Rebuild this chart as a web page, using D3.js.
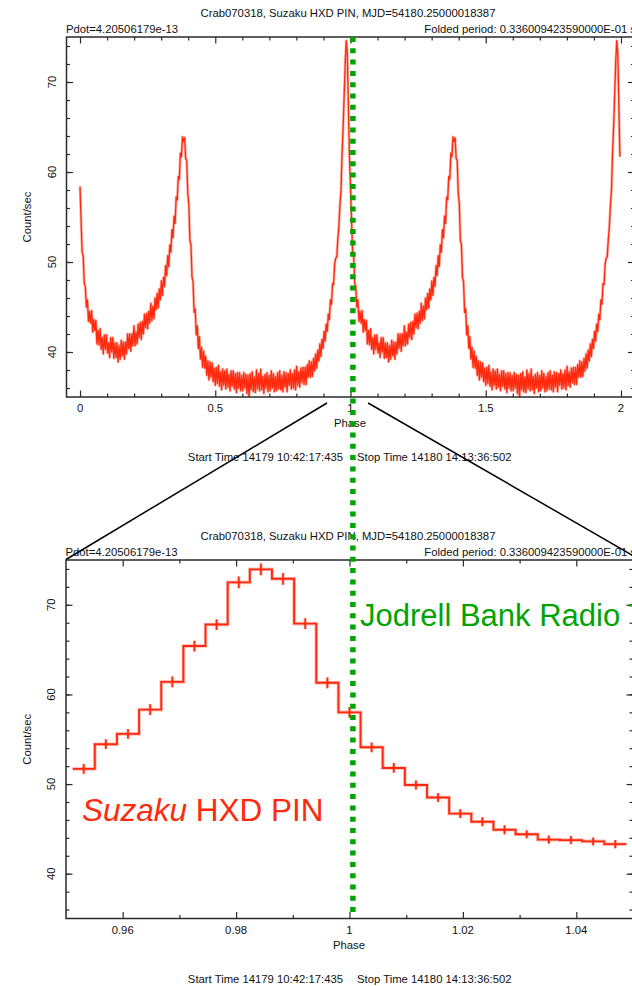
<!DOCTYPE html>
<html><head><meta charset="utf-8">
<script src="https://cdn.jsdelivr.net/npm/d3@7"></script>
<style>
body{margin:0;background:#fff;}
svg{display:block;}
text{font-family:"Liberation Sans",Arial,Helvetica,sans-serif;fill:#111;}
</style>
</head><body>
<svg id="c" width="632" height="986"></svg>
<script>
// ---------------- data ----------------
const titleText  = "Crab070318, Suzaku HXD PIN, MJD=54180.25000018387";
const pdotText   = "Pdot=4.20506179e-13";
const periodText = "Folded period: 0.336009423590000E-01 s";
const startText  = "Start Time 14179 10:42:17:435";
const stopText   = "Stop Time 14180 14:13:36:502";
const xAxisTitle = "Phase";
const yAxisTitle = "Count/sec";
const radioLabel = "Jodrell Bank Radio Timing";
const suzakuItalic = "Suzaku";
const suzakuRest = " HXD PIN";

// folded light curve, one cycle, 256 phase bins (plotted twice: phase 0-2)
const binsPerCycle = 256;
const profile = [
58.4,54.6,51.1,50.7,47.6,47.3,45.0,45.8,43.4,44.5,43.2,44.6,42.2,43.6,42.4,43.5,
40.9,42.4,40.8,42.6,40.3,41.6,39.8,41.9,40.3,41.9,39.9,41.0,39.4,41.6,40.0,41.6,
39.3,41.0,39.4,41.0,38.9,40.7,39.2,41.3,39.6,41.1,39.2,41.1,39.8,42.0,40.4,42.0,
40.1,42.0,40.7,42.9,40.7,42.2,40.9,43.1,41.6,43.3,41.4,43.4,42.0,44.2,42.7,44.3,
42.6,44.5,43.2,45.4,43.5,45.1,43.7,46.0,44.7,46.5,44.9,47.0,45.8,47.9,46.3,48.3,
47.3,49.6,48.5,50.7,49.5,51.9,51.1,53.6,52.7,55.1,54.3,57.2,56.9,59.5,59.2,62.1,
61.7,63.9,63.4,63.8,61.5,61.3,57.6,56.4,52.4,51.9,48.3,47.8,44.4,44.8,41.9,42.9,
40.4,41.7,39.2,40.5,38.3,40.1,38.2,39.5,37.4,39.0,36.9,38.9,37.2,38.8,36.7,38.2,
36.3,38.3,36.5,38.5,36.2,37.8,35.8,38.1,36.3,37.9,35.9,38.1,36.1,37.5,35.7,37.9,
36.2,37.9,35.9,37.6,35.5,37.7,36.0,37.7,35.7,37.4,35.7,37.7,36.0,37.5,35.4,37.4,
34.9,37.6,35.8,37.8,35.6,37.2,35.5,38.0,35.9,37.6,35.7,38.1,35.8,37.3,35.4,37.5,
36.0,37.7,35.6,37.4,35.7,37.9,36.0,37.6,35.6,37.3,35.7,37.7,35.9,37.9,35.8,37.4,
35.6,37.8,36.1,37.7,35.6,37.6,36.3,38.0,35.9,37.6,36.0,38.0,35.8,38.4,36.3,37.8,
36.1,38.2,36.6,38.3,36.4,38.3,36.4,38.6,37.2,39.0,37.2,38.9,37.3,39.3,37.9,39.8,
38.2,40.2,39.0,40.9,39.5,41.4,40.4,42.3,41.2,43.1,42.3,44.2,43.6,45.8,45.3,47.6,
47.5,49.8,50.4,50.6,52.5,53.9,56.3,57.9,62.0,64.9,68.5,72.1,74.6,73.2,67.4,61.7
];

// zoomed panel: 1/256 phase bins around the main pulse
const zoomBinIndex = [244,245,246,247,248,249,250,251,252,253,254,255,256,257,258,259,260,261,262,263,264,265,266,267,268];
const zoomCounts   = [51.7,54.45,55.6,58.3,61.4,65.4,67.8,72.5,73.95,72.9,67.9,61.3,58.0,54.1,51.8,49.9,48.5,46.7,45.8,44.9,44.4,43.8,43.75,43.6,43.3];
const zoomErrors   = [0.55,0.55,0.55,0.6,0.6,0.6,0.6,0.65,0.65,0.65,0.6,0.6,0.6,0.55,0.55,0.5,0.5,0.5,0.5,0.5,0.45,0.45,0.45,0.45,0.45];

const topXMajor = [0,0.5,1,1.5,2];
const topXLabels = ["0","0.5","1","1.5","2"];
const botXMajor = [0.96,0.98,1,1.02,1.04];
const botXLabels = ["0.96","0.98","1","1.02","1.04"];
const yMajor = [40,50,60,70];
const yLabels = ["40","50","60","70"];
const radioPhase = 1.0006;

// ---------------- drawing ----------------
const svg = d3.select("#c");
const RED = "#ff2a0e", GREEN = "#00a400", FRAME = "#2a2a2a";
const FS = 11.3;

function panel(cfg){
  const g = svg.append("g");
  const x = d3.scaleLinear().domain(cfg.xDomain).range([cfg.left, cfg.right]);
  const y = d3.scaleLinear().domain([35,75]).range([cfg.bottom, cfg.top]);
  const clipId = "clip" + cfg.id;
  svg.append("clipPath").attr("id", clipId).append("rect")
     .attr("x", cfg.left).attr("y", cfg.top).attr("width", cfg.right-cfg.left).attr("height", cfg.bottom-cfg.top);

  const tickStyle = sel => { sel.select(".domain").remove(); sel.selectAll("line").attr("stroke", FRAME).attr("stroke-width",1.2); };
  const mk = (axis, tr) => g.append("g").attr("transform", tr).call(axis).call(tickStyle);
  mk(d3.axisBottom(x).tickValues(cfg.xMinor).tickSize(-3.5).tickFormat(""), `translate(0,${cfg.bottom})`);
  mk(d3.axisBottom(x).tickValues(cfg.xMajor).tickSize(-6.5).tickFormat(""), `translate(0,${cfg.bottom})`);
  mk(d3.axisTop(x).tickValues(cfg.xMinor).tickSize(-3.5).tickFormat(""), `translate(0,${cfg.top})`);
  mk(d3.axisTop(x).tickValues(cfg.xMajor).tickSize(-6.5).tickFormat(""), `translate(0,${cfg.top})`);
  const yMinor = d3.range(36, 75, 2);
  mk(d3.axisLeft(y).tickValues(yMinor).tickSize(-3.5).tickFormat(""), `translate(${cfg.left},0)`);
  mk(d3.axisLeft(y).tickValues(yMajor).tickSize(-6.5).tickFormat(""), `translate(${cfg.left},0)`);
  mk(d3.axisRight(y).tickValues(yMinor).tickSize(-3.5).tickFormat(""), `translate(${cfg.right},0)`);
  mk(d3.axisRight(y).tickValues(yMajor).tickSize(-6.5).tickFormat(""), `translate(${cfg.right},0)`);

  g.selectAll(null).data(cfg.xMajor).enter().append("text")
    .attr("x", d=>x(d)).attr("y", cfg.bottom+15).attr("text-anchor","middle")
    .attr("font-size", FS).text((d,i)=>cfg.xLabels[i]);
  g.selectAll(null).data(yMajor).enter().append("text")
    .attr("transform", d=>`translate(${cfg.left-11},${y(d)}) rotate(-90)`)
    .attr("text-anchor","middle").attr("font-size", FS).text((d,i)=>yLabels[i]);
  g.append("text").attr("x", (cfg.left+cfg.right)/2 - 0.5).attr("y", cfg.bottom+30)
    .attr("text-anchor","middle").attr("font-size", FS).text(xAxisTitle);
  g.append("text").attr("transform", `translate(30.5,${(cfg.top+cfg.bottom)/2}) rotate(-90)`)
    .attr("text-anchor","middle").attr("font-size", FS).text(yAxisTitle);
  g.append("text").attr("x", 348).attr("y", cfg.top-20.5).attr("text-anchor","middle").attr("font-size", FS).text(titleText);
  g.append("text").attr("x", cfg.left-0.5).attr("y", cfg.top-4.5).attr("font-size", FS).text(pdotText);
  g.append("text").attr("x", 636).attr("y", cfg.top-4.5).attr("text-anchor","end").attr("font-size", FS).text(periodText);
  g.append("text").attr("x", 343).attr("y", cfg.bottom+64).attr("text-anchor","end").attr("font-size", FS).text(startText);
  g.append("text").attr("x", 357).attr("y", cfg.bottom+64).attr("font-size", FS).text(stopText);

  const dg = g.append("g").attr("clip-path", `url(#${clipId})`);
  cfg.drawData(dg, x, y);

  g.append("rect").attr("x", cfg.left).attr("y", cfg.top).attr("width", cfg.right-cfg.left).attr("height", cfg.bottom-cfg.top)
    .attr("fill","none").attr("stroke", FRAME).attr("stroke-width",1.5);
  return {x,y};
}

const topPts = [];
for (let c = 0; c < 2; c++) profile.forEach((v,i)=>topPts.push([c + i/binsPerCycle, v]));

const topPanel = panel({
  id:"T", left:66.5, right:634.5, top:37, bottom:397, xDomain:[-0.05,2.05],
  xMajor: topXMajor, xLabels: topXLabels,
  xMinor: d3.range(0, 21).map(k=>k/10).filter(v=>Math.abs(v*2-Math.round(v*2))>1e-6),
  drawData:(g,x,y)=>{
    const line = d3.line().x(d=>x(d[0])).y(d=>y(d[1]));
    g.append("path").datum(topPts).attr("d", line).attr("fill","none")
      .attr("stroke", RED).attr("stroke-opacity",0.35).attr("stroke-width",2.8).attr("stroke-linejoin","round");
    g.append("path").datum(topPts).attr("d", line).attr("fill","none")
      .attr("stroke", RED).attr("stroke-width",1.3).attr("stroke-linejoin","round");
  }
});

const botPanel = panel({
  id:"B", left:66, right:633, top:560, bottom:918.5, xDomain:[0.95,1.05],
  xMajor: botXMajor, xLabels: botXLabels,
  xMinor: [0.97,0.99,1.01,1.03,1.05],
  drawData:(g,x,y)=>{
    const w = 1/binsPerCycle;
    const pts = [];
    zoomBinIndex.forEach((k,i)=>{
      const c = k/binsPerCycle;
      pts.push([c-w/2, zoomCounts[i]]);
      pts.push([c+w/2, zoomCounts[i]]);
    });
    const line = d3.line().x(d=>x(d[0])).y(d=>y(d[1]));
    [[3.6,0.3],[1.9,1]].forEach(([sw,op])=>{
      g.append("path").datum(pts).attr("d", line).attr("fill","none")
        .attr("stroke", RED).attr("stroke-opacity",op).attr("stroke-width",sw);
      g.selectAll(null).data(zoomBinIndex).enter().append("line")
        .attr("x1", k=>x(k/binsPerCycle)).attr("x2", k=>x(k/binsPerCycle))
        .attr("y1", (k,i)=>y(zoomCounts[i]-zoomErrors[i])).attr("y2", (k,i)=>y(zoomCounts[i]+zoomErrors[i]))
        .attr("stroke", RED).attr("stroke-opacity",op).attr("stroke-width",sw*0.9);
    });
  }
});

const ann = svg.append("g").attr("stroke","#000").attr("stroke-width",1.5);
ann.append("line").attr("x1", topPanel.x(0.913)).attr("y1", 403).attr("x2", botPanel.x(0.95)).attr("y2", 559.5);
ann.append("line").attr("x1", topPanel.x(1.065)).attr("y1", 403).attr("x2", 632).attr("y2", 555);

svg.append("line").attr("x1", botPanel.x(radioPhase)).attr("x2", botPanel.x(radioPhase))
  .attr("y1", 37).attr("y2", 918)
  .attr("stroke", GREEN).attr("stroke-width",5.5).attr("stroke-dasharray","5 6.3");

svg.append("text").attr("x", 360).attr("y", 626).attr("font-size", 31).style("fill", GREEN).text(radioLabel);
const st = svg.append("text").attr("x", 82).attr("y", 821).attr("font-size", 31.5).style("fill", RED);
st.append("tspan").attr("font-style","italic").text(suzakuItalic);
st.append("tspan").text(suzakuRest);
</script>
</body></html>
